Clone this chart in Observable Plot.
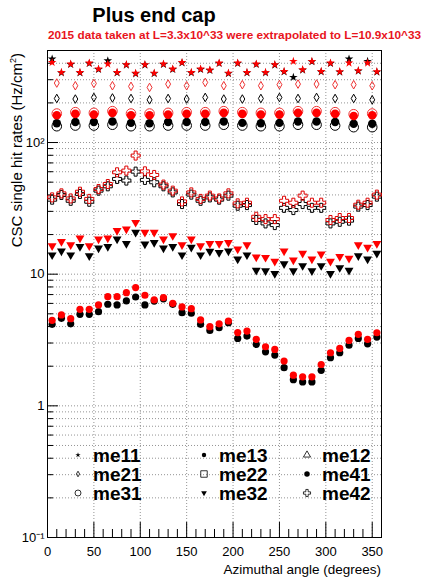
<!DOCTYPE html>
<html>
<head>
<meta charset="utf-8">
<script src="https://cdn.jsdelivr.net/npm/d3@7"></script>
<script src="https://cdn.jsdelivr.net/npm/@observablehq/plot@0.6"></script>
<style>
  html, body { margin: 0; padding: 0; background: #fff; }
  #chart { width: 424px; height: 577px; }
</style>
</head>
<body>
<div id="chart"></div>
<script>
// ---------- data ----------
const phi36 = [5,15,25,35,45,55,65,75,85,95,105,115,125,135,145,155,165,175,185,195,205,215,225,235,245,255,265,275,285,295,305,315,325,335,345,355];
const phi18 = [10,30,50,70,90,110,130,150,170,190,210,230,250,270,290,310,330,350];

const me11Red   = [406,341,395,341,402,362,395,341,391,336,391,337,395,362,406,341,362,356,402,337,402,341,395,341,391,347,414,358,414,347,402,346,402,352,402,346];
const me11Black = [431,338,392,338,399,359,418,338,388,333,388,334,392,359,403,338,359,353,399,334,399,338,392,338,388,344,313,355,411,344,399,343,431,349,414,343];

const me21Red   = [283,270,281,270,267,262,278,270,286,270,275,270,275,278,278,275,275,270];
const me21Black = [216,214,220,218,216,211,216,214,220,214,214,216,220,216,220,216,216,211];

const me31Red   = [166,170,168,173,166,166,168,170,170,173,170,168,168,173,173,170,164,166];
const me41Red   = [161,165,163,168,161,161,163,165,165,168,165,163,163,168,168,165,159,161];
const me41Black = [140,143,143,144.5,141,140,143,143,143,144.5,141,140,141,144.5,144.5,143,139,139];
const me31Black = [133,134.6,134.6,136.5,133,133,134.6,134.6,134.6,136.5,134.6,133,133,136.5,136.5,134.6,130.8,130.8];

const me42Red   = [38.3,41.1,37.6,42.3,37.3,44.3,48.4,59.4,61.2,79.6,60.4,56.7,47.9,43.1,35.7,41.8,37.3,39.5,37.6,41.1,34.5,34.9,27.3,26.2,26.2,36.1,34.9,39.5,34.9,34.9,25.8,26.7,26.7,33.7,34.9,40.2];
const me42Black = [36.8,40.0,36.1,40.7,35.5,43.1,46.5,52.9,51.4,60.1,52.0,49.9,46.5,41.8,34.1,40.2,36.1,38.3,36.8,39.5,33.1,33.5,25.8,24.3,23.6,31.9,30.7,34.1,31.9,31.9,24.3,25.0,25.5,32.6,33.5,38.8];

const me32Red   = [16.4,17.7,16.7,18.8,16.4,18.5,18.8,21.4,22.0,24.7,20.8,20.8,18.5,19.6,16.7,18.5,16.4,17.1,17.1,17.4,15.5,16.7,13.5,13.4,12.5,15.0,12.8,14.4,13.0,14.2,12.5,13.6,13.2,16.7,16.0,17.1];
const me32Black = [14.0,15.0,14.0,16.2,13.8,15.8,16.2,18.5,17.1,20.8,16.9,17.4,15.8,16.2,14.0,16.0,14.0,14.9,14.6,15.0,13.0,14.0,10.7,10.6,10.1,12.0,10.6,11.6,10.6,11.6,10.1,11.2,10.7,13.8,13.0,14.4];

const me13Red   = [4.46,4.90,4.59,5.41,5.41,5.84,6.75,6.75,7.24,7.91,6.92,6.37,6.64,6.01,5.64,5.47,4.49,3.99,4.20,4.41,3.60,3.70,3.20,2.81,2.68,2.19,1.71,1.66,1.66,2.06,2.53,2.73,3.14,3.49,3.20,3.59];
const me13Black = [4.16,4.62,4.20,4.96,4.96,5.19,5.91,5.84,6.26,6.71,5.84,6.25,6.50,5.90,5.10,5.05,4.16,3.74,3.92,4.28,3.25,3.39,2.93,2.57,2.43,1.95,1.58,1.52,1.52,1.86,2.32,2.53,2.89,3.25,2.96,3.33];

// ticks & labels
const yMajor = [0.1, 1, 10, 100];
const yTickLabels = ["10\u207B\u00B9", "1", "10", "10\u00B2"];
const yMinor = [0.2,0.3,0.4,0.5,0.6,0.7,0.8,0.9,2,3,4,5,6,7,8,9,20,30,40,50,60,70,80,90,200,300,400];
const xMajor = [0,50,100,150,200,250,300,350];
const xMinor = [10,20,30,40,60,70,80,90,110,120,130,140,160,170,180,190,210,220,230,240,260,270,280,290,310,320,330,340];
const legendLabels = ["me11","me21","me31","me13","me22","me32","me12","me41","me42"];

const titleText = "Plus end cap";
const subtitleText = "2015 data taken at L=3.3x10^33 were extrapolated to L=10.9x10^33";
const xTitle = "Azimuthal angle (degrees)";

// ---------- layout ----------
const FONT = '"Liberation Sans", Arial, Helvetica, sans-serif';
const W = 424, H = 577, ML = 47, MR = 43, MT = 50, MB = 40;
const FW = W - ML - MR, FH = H - MT - MB;

const triDown = {draw(ctx, size) {
  const y = Math.sqrt(size / (Math.sqrt(3) * 3)), x = Math.sqrt(3) * y;
  ctx.moveTo(0, 2 * y); ctx.lineTo(x, -y); ctx.lineTo(-x, -y); ctx.closePath();
}};

const S = (xs, ys, o) => Plot.dot(xs, {x: xs, y: ys, ...o});
const gridStyle = {stroke: "#666", strokeOpacity: 1, strokeWidth: 0.7, strokeDasharray: "1,2"};

const plot = Plot.plot({
  width: W, height: H,
  marginLeft: ML, marginRight: MR, marginTop: MT, marginBottom: MB,
  style: {fontFamily: FONT, fontSize: "13px", background: "#fff", color: "#000"},
  x: {domain: [0, 360]},
  y: {type: "log", domain: [0.1, 500]},
  marks: [
    Plot.gridY(yMinor.concat(yMajor), gridStyle),
    Plot.gridX(xMajor, gridStyle),
    Plot.tickY(yMajor, {y: d => d, insetRight: FW - 11, stroke: "#000"}),
    Plot.tickY(yMinor, {y: d => d, insetRight: FW - 6, stroke: "#000"}),
    Plot.tickX(xMajor, {x: d => d, insetTop: FH - 15, stroke: "#000"}),
    Plot.tickX(xMinor, {x: d => d, insetTop: FH - 8, stroke: "#000"}),
    Plot.axisY({ticks: yMajor, tickFormat: d => yTickLabels[yMajor.indexOf(d)], tickSize: 0, tickPadding: 3, label: null, fontSize: 13}),
    Plot.axisX({ticks: xMajor, tickSize: 0, tickPadding: 9, label: null, fontSize: 13}),
    Plot.frame({stroke: "#000"}),
    // me13
    S(phi36, me13Black, {fill: "#000", r: 3.6}),
    S(phi36, me13Red, {fill: "red", r: 3.6}),
    // me32
    S(phi36, me32Black, {fill: "#000", symbol: triDown, r: 3.3}),
    S(phi36, me32Red, {fill: "red", symbol: triDown, r: 3.3}),
    // me42
    S(phi36, me42Black, {fill: "none", stroke: "#000", symbol: "cross", r: 3.8, strokeWidth: 1}),
    S(phi36, me42Red, {fill: "none", stroke: "#d00", symbol: "cross", r: 3.8, strokeWidth: 1}),
    // me31 / me41
    S(phi18, me31Black, {fill: "none", stroke: "#000", r: 4.8, strokeWidth: 1}),
    S(phi18, me41Black, {fill: "#000", r: 4.2}),
    S(phi18, me31Red, {fill: "none", stroke: "#e33", r: 4.8, strokeWidth: 1}),
    S(phi18, me41Red, {fill: "red", r: 4.3}),
    // me21
    S(phi18, me21Black, {fill: "none", stroke: "#000", symbol: "diamond", r: 2.6, strokeWidth: 1}),
    S(phi18, me21Red, {fill: "none", stroke: "#e33", symbol: "diamond", r: 2.6, strokeWidth: 1}),
    // me11
    S(phi36, me11Black, {fill: "#000", symbol: "star", r: 2.7}),
    S(phi36, me11Red, {fill: "red", symbol: "star", r: 2.7})
  ]
});

document.getElementById("chart").appendChild(plot);

// ---------- titles & legend ----------
const svg = d3.select(plot);
svg.append("text").attr("x", 154).attr("y", 22).attr("text-anchor", "middle")
  .attr("font-family", FONT).attr("font-size", 20).attr("font-weight", "bold").attr("fill", "#000").text(titleText);
svg.append("text").attr("x", 234.5).attr("y", 39).attr("text-anchor", "middle")
  .attr("font-family", FONT).attr("font-size", 11.8).attr("font-weight", "bold").attr("fill", "#e8141c").text(subtitleText);

const yt = svg.append("text").attr("transform", "translate(22,53) rotate(-90)").attr("text-anchor", "end")
  .attr("font-family", FONT).attr("font-size", 15).attr("fill", "#000");
yt.append("tspan").text("CSC single hit rates (Hz/cm");
yt.append("tspan").attr("font-size", 9).attr("dy", -6).text("2");
yt.append("tspan").attr("dy", 6).text(")");

svg.append("text").attr("x", 381).attr("y", 574).attr("text-anchor", "end")
  .attr("font-family", FONT).attr("font-size", 13.5).attr("fill", "#000").text(xTitle);

const sym = (type, size) => d3.symbol().type(type).size(size)();
const legendItems = [
  {lab: 0, x: 78, y: 455, d: sym(d3.symbolStar, 9), fill: true},
  {lab: 1, x: 78, y: 474, d: sym(d3.symbolDiamond, 9), fill: false},
  {lab: 2, x: 78, y: 493, d: sym(d3.symbolCircle, 28), fill: false},
  {lab: 3, x: 204, y: 455, d: sym(d3.symbolCircle, 15), fill: true},
  {lab: 4, x: 204, y: 474, d: sym(d3.symbolSquare, 42), fill: false},
  {lab: 5, x: 204, y: 493, d: sym(triDown, 14), fill: true},
  {lab: 6, x: 307, y: 455, d: sym(d3.symbolTriangle, 22), fill: false},
  {lab: 7, x: 307, y: 474, d: sym(d3.symbolCircle, 24), fill: true},
  {lab: 8, x: 307, y: 493, d: sym(d3.symbolCross, 28), fill: false}
];
const lg = svg.append("g");
legendItems.forEach(it => {
  lg.append("path").attr("d", it.d).attr("transform", `translate(${it.x},${it.y})`)
    .attr("fill", it.fill ? "#000" : "none").attr("stroke", it.fill ? "none" : "#000").attr("stroke-width", 0.8);
  lg.append("text").attr("x", it.x + 15).attr("y", it.y + 6.8).attr("text-anchor", "start")
    .attr("font-family", FONT).attr("font-size", 19).attr("font-weight", "bold").attr("fill", "#000")
    .text(legendLabels[it.lab]);
});
</script>
</body>
</html>
